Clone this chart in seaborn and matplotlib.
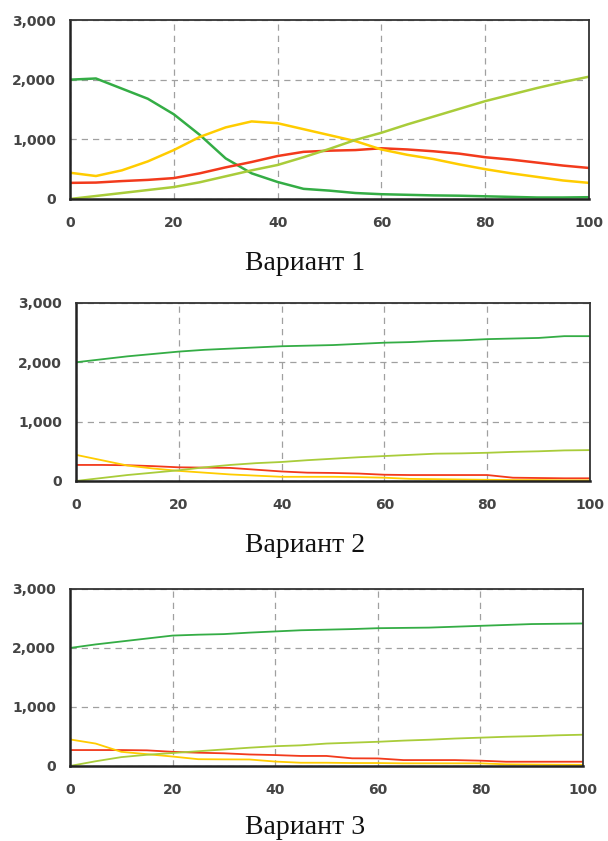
import numpy as np
import pandas as pd
import matplotlib
matplotlib.use("Agg")
import matplotlib.pyplot as plt
import seaborn as sns

# ---------------- data ----------------
t = [0, 5, 10, 15, 20, 25, 30, 35, 40, 45, 50, 55, 60, 65, 70, 75, 80, 85, 90, 95, 100]

# Variant 1
green1 = [2000, 2020, 1850, 1680, 1420, 1075, 680, 430, 285, 170, 140, 100, 80, 70, 60, 55, 45, 35, 25, 25, 30]
yellow1 = [440, 385, 480, 630, 820, 1040, 1200, 1300, 1270, 1170, 1070, 970, 830, 740, 670, 580, 500, 430, 370, 310, 270]
red1 = [270, 275, 300, 320, 350, 430, 530, 620, 720, 790, 810, 820, 850, 830, 800, 760, 700, 660, 610, 560, 520]
lgreen1 = [0, 50, 100, 150, 200, 280, 380, 480, 570, 700, 840, 990, 1110, 1250, 1380, 1510, 1640, 1750, 1860, 1960, 2050]

# Variant 2
green2 = [2000, 2050, 2100, 2140, 2180, 2210, 2230, 2250, 2270, 2280, 2290, 2310, 2330, 2340, 2360, 2370, 2390, 2400, 2410, 2440, 2440]
yellow2 = [440, 350, 260, 210, 170, 140, 110, 90, 70, 70, 70, 65, 55, 35, 30, 25, 20, 15, 15, 10, 10]
red2 = [270, 270, 265, 250, 230, 225, 220, 190, 160, 140, 135, 125, 105, 100, 100, 100, 100, 55, 50, 45, 45]
lgreen2 = [0, 50, 100, 140, 180, 230, 270, 300, 320, 350, 375, 400, 420, 440, 460, 465, 475, 490, 500, 515, 520]

# Variant 3
green3 = [2000, 2060, 2110, 2160, 2210, 2225, 2235, 2260, 2280, 2300, 2310, 2320, 2335, 2340, 2345, 2360, 2375, 2390, 2405, 2410, 2415]
yellow3 = [450, 380, 240, 200, 160, 115, 112, 110, 75, 55, 55, 50, 50, 45, 45, 45, 45, 28, 25, 22, 20]
red3 = [270, 270, 270, 265, 240, 225, 215, 195, 185, 170, 170, 130, 128, 100, 100, 100, 90, 72, 72, 72, 72]
lgreen3 = [0, 80, 150, 190, 220, 250, 280, 310, 335, 350, 380, 395, 410, 430, 445, 465, 480, 495, 505, 520, 530]

series_names = ["green", "red", "yellow", "lgreen"]
captions = ["Вариант 1", "Вариант 2", "Вариант 3"]
x_ticks = [0, 20, 40, 60, 80, 100]
x_labels = ["0", "20", "40", "60", "80", "100"]
y_ticks = [0, 1000, 2000, 3000]
y_labels = ["0", "1,000", "2,000", "3,000"]

panels = [
    {"green": green1, "red": red1, "yellow": yellow1, "lgreen": lgreen1},
    {"green": green2, "red": red2, "yellow": yellow2, "lgreen": lgreen2},
    {"green": green3, "red": red3, "yellow": yellow3, "lgreen": lgreen3},
]

palette = {"green": "#34ad45", "red": "#f23a1c", "yellow": "#ffcc00", "lgreen": "#a9cc3a"}

# ---------------- style ----------------
sns.set_style("white")
plt.rcParams["font.family"] = ["DejaVu Sans"]

fig = plt.figure(figsize=(6.08, 8.41), dpi=100)

axes_rects = [
    [0.1151, 0.7634, 0.8536, 0.2128],
    [0.1250, 0.4281, 0.8454, 0.2117],
    [0.1151, 0.0892, 0.8438, 0.2105],
]
caption_y = [1 - 263 / 841, 1 - 545 / 841, 1 - 828 / 841]
line_w = [1.8, 1.3, 1.3]

for i, (rect, pdata) in enumerate(zip(axes_rects, panels)):
    ax = fig.add_axes(rect)
    rows = []
    for s in series_names:
        for xv, yv in zip(t, pdata[s]):
            rows.append({"t": xv, "v": yv, "s": s})
    df = pd.DataFrame(rows)
    sns.lineplot(data=df, x="t", y="v", hue="s", hue_order=series_names,
                 palette=palette, legend=False, ax=ax, linewidth=line_w[i])
    ax.set_xlim(0, 100)
    ax.set_ylim(0, 3000)
    ax.set_xticks(x_ticks)
    ax.set_xticklabels(x_labels)
    ax.set_yticks(y_ticks)
    ax.set_yticklabels(y_labels)
    ax.set_xlabel("")
    ax.set_ylabel("")
    ax.grid(True, color="#a0a0a0", linestyle=(0, (5, 4)), linewidth=0.9)
    ax.set_axisbelow(True)
    ax.tick_params(axis="both", direction="out", length=4, width=1.2,
                   color="#333333", labelsize=10, labelcolor="#444444", pad=6)
    ax.tick_params(axis="x", pad=8)
    for side in ["left", "bottom"]:
        ax.spines[side].set_linewidth(1.8)
        ax.spines[side].set_color("#222222")
    for side in ["top", "right"]:
        ax.spines[side].set_linewidth(1.3)
        ax.spines[side].set_color("#333333")
    for lab in ax.get_xticklabels() + ax.get_yticklabels():
        lab.set_fontweight("semibold")
    fig.text(0.502, caption_y[i], captions[i], ha="center", va="center",
             fontsize=20, family=["Liberation Serif"], color="#111111")

fig.savefig("out.png", dpi=100, facecolor="white")
